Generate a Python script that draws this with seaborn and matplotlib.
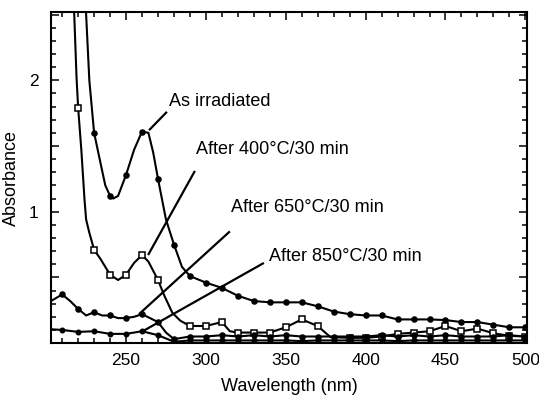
import numpy as np
import pandas as pd
import matplotlib
matplotlib.use("Agg")
import matplotlib.pyplot as plt
from matplotlib.ticker import MultipleLocator, FuncFormatter
import seaborn as sns

# ---- data ----
wl_irr = [222, 225, 227, 230, 234, 237, 240, 242, 245, 250, 255, 260, 264, 267, 270,
          275, 280, 285, 290, 300, 310, 320, 330, 340, 350, 360, 370, 380, 390, 400,
          410, 420, 430, 440, 450, 460, 470, 480, 490, 500]
ab_irr = [3.2, 2.5, 2.0, 1.6, 1.37, 1.2, 1.12, 1.10, 1.12, 1.28, 1.47, 1.61, 1.60, 1.45, 1.25,
          0.94, 0.75, 0.58, 0.51, 0.46, 0.42, 0.36, 0.32, 0.31, 0.31, 0.31, 0.28, 0.24, 0.22, 0.21,
          0.21, 0.18, 0.18, 0.18, 0.175, 0.16, 0.16, 0.14, 0.12, 0.12]

wl_400 = [216, 217.5, 219, 220, 222, 224, 225, 227, 230, 234, 240, 245, 250, 255, 260,
          264, 270, 274, 279, 284, 290, 300, 310, 315, 320, 330, 340, 350, 360, 370,
          378, 390, 400, 410, 420, 430, 440, 450, 460, 470, 480, 490, 500]
ab_400 = [3.2, 2.52, 2.02, 1.79, 1.47, 1.09, 0.94, 0.84, 0.71, 0.64, 0.52, 0.48, 0.52, 0.61, 0.67,
          0.62, 0.48, 0.36, 0.23, 0.17, 0.13, 0.13, 0.16, 0.09, 0.08, 0.08, 0.08, 0.12, 0.18, 0.13,
          0.045, 0.04, 0.04, 0.05, 0.07, 0.08, 0.09, 0.13, 0.09, 0.11, 0.075, 0.055, 0.05]

wl_650 = [203, 210, 215, 220, 225, 230, 235, 240, 245, 250, 255, 260, 265, 270, 275,
          280, 290, 300, 310, 320, 330, 340, 350, 360, 370, 380, 390, 400, 410, 420,
          430, 440, 450, 460, 470, 480, 490, 500]
ab_650 = [0.32, 0.37, 0.32, 0.26, 0.21, 0.235, 0.21, 0.21, 0.19, 0.19, 0.20, 0.22, 0.19, 0.16, 0.08,
          0.03, 0.05, 0.05, 0.06, 0.05, 0.06, 0.05, 0.06, 0.05, 0.05, 0.05, 0.05, 0.05, 0.06, 0.05,
          0.06, 0.05, 0.06, 0.05, 0.05, 0.05, 0.06, 0.05]

wl_850 = [203, 210, 220, 230, 240, 250, 260, 270, 280, 290, 300, 310, 320, 330, 340,
          350, 360, 370, 380, 390, 400, 410, 420, 430, 440, 450, 460, 470, 480, 490, 500]
ab_850 = [0.105, 0.10, 0.085, 0.09, 0.07, 0.07, 0.09, 0.06, 0.01, 0.02, 0.02, 0.02, 0.02, 0.02, 0.02,
          0.02, 0.015, 0.02, 0.02, 0.02, 0.02, 0.02, 0.015, 0.02, 0.02, 0.02, 0.02, 0.02, 0.02, 0.02, 0.02]

labels = ["As irradiated", "After 400°C/30 min", "After 650°C/30 min", "After 850°C/30 min"]

# ---- plotting ----
sns.set_style("ticks")
plt.rcParams["font.family"] = ["Liberation Sans", "DejaVu Sans"]
plt.rcParams["axes.labelcolor"] = "black"
plt.rcParams["text.color"] = "black"

fig = plt.figure(figsize=(5.39, 3.98), dpi=100)
ax = fig.add_axes([0.0946, 0.138, 0.883, 0.832])

series = [
    (wl_irr, ab_irr, "o", "black", 3.6),
    (wl_400, ab_400, "s", "white", 3.8),
    (wl_650, ab_650, "o", "black", 3.6),
    (wl_850, ab_850, "o", "black", 3.2),
]
for (wl, ab, mk, fc, ms), lab in zip(series, labels):
    wl = np.asarray(wl, dtype=float)
    me = [i for i, w in enumerate(wl) if abs(w - round(w / 10) * 10) < 0.01 and w >= 210]
    df = pd.DataFrame({"wl": wl, "ab": ab})
    sns.lineplot(data=df, x="wl", y="ab", ax=ax, color="black", lw=1.5,
                 marker=mk, markersize=ms, markerfacecolor=fc, markeredgecolor="black",
                 markeredgewidth=1.1, markevery=me, sort=False, estimator=None,
                 label=lab, legend=False)

ax.set_xlim(203, 501)
ax.set_ylim(0, 2.52)
ax.xaxis.set_major_locator(MultipleLocator(50))
ax.xaxis.set_minor_locator(MultipleLocator(10))
ax.yaxis.set_major_locator(MultipleLocator(0.5))
ax.yaxis.set_minor_locator(MultipleLocator(0.1))
ax.yaxis.set_major_formatter(FuncFormatter(lambda v, p: f"{int(round(v))}" if abs(v - round(v)) < 1e-6 and v > 0 else ""))
ax.tick_params(which="both", direction="in", top=True, right=True, width=1.1,
               colors="black", labelcolor="black")
ax.tick_params(which="major", length=6, labelsize=12.5)
ax.tick_params(axis="x", which="major", pad=7)
ax.tick_params(axis="y", which="major", pad=9)
ax.tick_params(which="minor", length=3.5)
for s in ax.spines.values():
    s.set_linewidth(1.5)
    s.set_color("black")

ax.set_xlabel("Wavelength (nm)", fontsize=13, labelpad=7, color="black")
ax.set_ylabel("Absorbance", fontsize=13, labelpad=6, color="black")

# annotations: text and leader lines
ann = [
    (labels[0], (276.9, 1.84), (264.4, 1.62), (275.6, 1.76)),
    (labels[1], (293.8, 1.47), (263.8, 0.67), (293.1, 1.31)),
    (labels[2], (315.6, 1.03), (258.1, 0.22), (315.0, 0.85)),
    (labels[3], (339.4, 0.66), (259.4, 0.083), (336.3, 0.61)),
]
for txt, tpos, p0, p1 in ann:
    ax.text(tpos[0], tpos[1], txt, fontsize=13, ha="left", va="center", color="black")
    ax.plot([p0[0], p1[0]], [p0[1], p1[1]], color="black", lw=1.6, solid_capstyle="butt")

fig.savefig("out.png", dpi=100)
